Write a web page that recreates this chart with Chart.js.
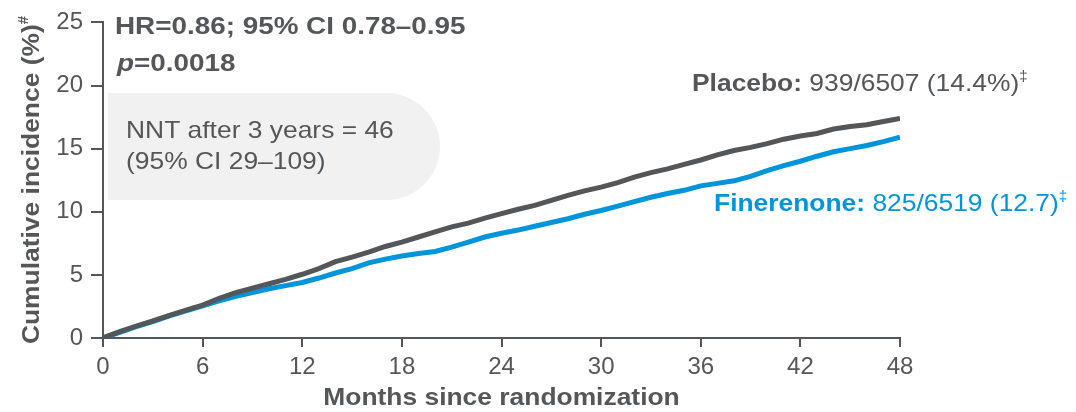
<!DOCTYPE html>
<html>
<head>
<meta charset="utf-8">
<script src="https://cdn.jsdelivr.net/npm/chart.js@4"></script>
<style>
  body { margin: 0; background: #fff; }
  #wrap { width: 1076px; height: 412px; position: relative; }
</style>
</head>
<body>
<div id="wrap"><canvas id="mycanvas" width="1076" height="412"></canvas></div>
<script>
var months = [];
for (var m = 0; m <= 48; m++) months.push(m);

var placebo = [0, 0.5, 0.95, 1.35, 1.8, 2.2, 2.6, 3.15, 3.6, 3.95, 4.3, 4.65, 5.05,
  5.5, 6.05, 6.4, 6.8, 7.25, 7.6, 8.0, 8.4, 8.8, 9.1, 9.5, 9.85,
  10.2, 10.5, 10.9, 11.3, 11.65, 11.95, 12.3, 12.75, 13.1, 13.4, 13.75, 14.1,
  14.5, 14.85, 15.1, 15.4, 15.75, 16.0, 16.2, 16.55, 16.75, 16.9, 17.15, 17.4];

var finerenone = [0, 0.45, 0.9, 1.3, 1.75, 2.15, 2.55, 2.95, 3.3, 3.6, 3.9, 4.15, 4.4,
  4.75, 5.15, 5.5, 5.95, 6.25, 6.5, 6.7, 6.85, 7.2, 7.6, 8.0, 8.3,
  8.55, 8.85, 9.15, 9.45, 9.8, 10.1, 10.45, 10.8, 11.15, 11.45, 11.7, 12.05,
  12.25, 12.45, 12.8, 13.25, 13.65, 14.0, 14.4, 14.75, 15.0, 15.25, 15.55, 15.9];

var xTicks = [0, 6, 12, 18, 24, 30, 36, 42, 48];
var yTicks = [0, 5, 10, 15, 20, 25];

var GRAY = '#53575a';
var BLUE = '#0095da';
var FONT = '"Liberation Sans", Arial, sans-serif';
var BOLD = 'bold 24px ' + FONT;
var REG = '24px ' + FONT;

function toXY(vals) {
  return vals.map(function (v, i) { return { x: months[i], y: v }; });
}

// draws runs of text side by side, each squeezed or stretched horizontally
function runs(c, x, y, parts, align) {
  var total = 0;
  parts.forEach(function (p) {
    c.font = p.font;
    p.w = c.measureText(p.text).width * (p.sx || 1);
    total += p.w;
  });
  if (align === 'center') x -= total / 2;
  parts.forEach(function (p) {
    c.save();
    c.font = p.font;
    c.fillStyle = p.color;
    c.translate(x, y + (p.dy || 0));
    c.scale(p.sx || 1, 1);
    c.fillText(p.text, 0, 0);
    c.restore();
    x += p.w;
  });
}

var annotations = {
  id: 'annotations',
  beforeDatasetsDraw: function (chart) {
    var c = chart.ctx;
    c.save();
    var x0 = 108, y0 = 93, x1 = 440, y1 = 200, r = 54;
    c.fillStyle = '#f1f1f1';
    c.beginPath();
    c.moveTo(x0, y0);
    c.lineTo(x1 - r, y0);
    c.arcTo(x1, y0, x1, y0 + r, r);
    c.lineTo(x1, y1 - r);
    c.arcTo(x1, y1, x1 - r, y1, r);
    c.lineTo(x0, y1);
    c.closePath();
    c.fill();
    c.restore();
  },
  afterDraw: function (chart) {
    var c = chart.ctx;
    c.save();
    c.textBaseline = 'middle';
    c.textAlign = 'left';

    runs(c, 115, 27, [{ text: 'HR=0.86; 95% CI 0.78\u20130.95', font: BOLD, color: GRAY, sx: 1.16 }]);
    runs(c, 117, 64, [
      { text: 'p', font: 'italic ' + BOLD, color: GRAY, sx: 1.16 },
      { text: '=0.0018', font: BOLD, color: GRAY, sx: 1.16 }
    ]);
    runs(c, 126, 131, [{ text: 'NNT after 3 years = 46', font: REG, color: GRAY, sx: 1.1 }]);
    runs(c, 126, 162, [{ text: '(95% CI 29\u2013109)', font: REG, color: GRAY, sx: 1.1 }]);

    runs(c, 692, 84, [
      { text: 'Placebo: ', font: BOLD, color: GRAY, sx: 1.1 },
      { text: '939/6507 (14.4%)', font: REG, color: GRAY, sx: 1.1 },
      { text: '\u2021', font: '15px ' + FONT, color: GRAY, dy: -7 }
    ]);
    runs(c, 714, 204, [
      { text: 'Finerenone: ', font: BOLD, color: BLUE, sx: 1.1 },
      { text: '825/6519 (12.7)', font: REG, color: BLUE, sx: 1.1 },
      { text: '\u2021', font: '15px ' + FONT, color: BLUE, dy: -7 }
    ]);

    // x axis title
    var area = chart.chartArea;
    runs(c, (area.left + area.right) / 2, 398, [
      { text: 'Months since randomization', font: BOLD, color: GRAY, sx: 1.1 }
    ], 'center');

    // y axis title with superscript
    c.translate(32, 180);
    c.rotate(-Math.PI / 2);
    runs(c, 0, 0, [
      { text: 'Cumulative incidence (%)', font: BOLD, color: GRAY, sx: 1.1 },
      { text: '#', font: 'bold 15px ' + FONT, color: GRAY, dy: -8 }
    ], 'center');
    c.restore();
  }
};

var ctx = document.getElementById('mycanvas');

var chart = new Chart(ctx, {
  type: 'line',
  data: {
    datasets: [
      {
        label: 'Placebo',
        data: toXY(placebo),
        borderColor: GRAY,
        borderWidth: 5,
        pointRadius: 0,
        tension: 0
      },
      {
        label: 'Finerenone',
        data: toXY(finerenone),
        borderColor: BLUE,
        borderWidth: 5,
        pointRadius: 0,
        tension: 0
      }
    ]
  },
  options: {
    responsive: false,
    animation: false,
    layout: { padding: { left: 0, right: 176, top: 15, bottom: 0 } },
    plugins: {
      legend: { display: false },
      tooltip: { enabled: false }
    },
    scales: {
      x: {
        type: 'linear',
        min: 0,
        max: 48,
        afterBuildTicks: function (axis) {
          axis.ticks = xTicks.map(function (v) { return { value: v }; });
        },
        afterFit: function (axis) { axis.height = 74; },
        border: { color: GRAY, width: 2 },
        grid: { drawOnChartArea: false, drawTicks: true, tickLength: 9, color: GRAY, lineWidth: 2 },
        ticks: {
          color: GRAY,
          padding: 6,
          maxRotation: 0,
          autoSkip: false,
          font: { family: FONT, size: 24 }
        }
      },
      y: {
        min: 0,
        max: 25,
        afterBuildTicks: function (axis) {
          axis.ticks = yTicks.map(function (v) { return { value: v }; });
        },
        afterFit: function (axis) { axis.width = 103; },
        border: { color: GRAY, width: 2 },
        grid: { drawOnChartArea: false, drawTicks: true, tickLength: 12, color: GRAY, lineWidth: 2 },
        ticks: {
          color: GRAY,
          padding: 8,
          font: { family: FONT, size: 24 }
        }
      }
    }
  },
  plugins: [annotations]
});
</script>
</body>
</html>
